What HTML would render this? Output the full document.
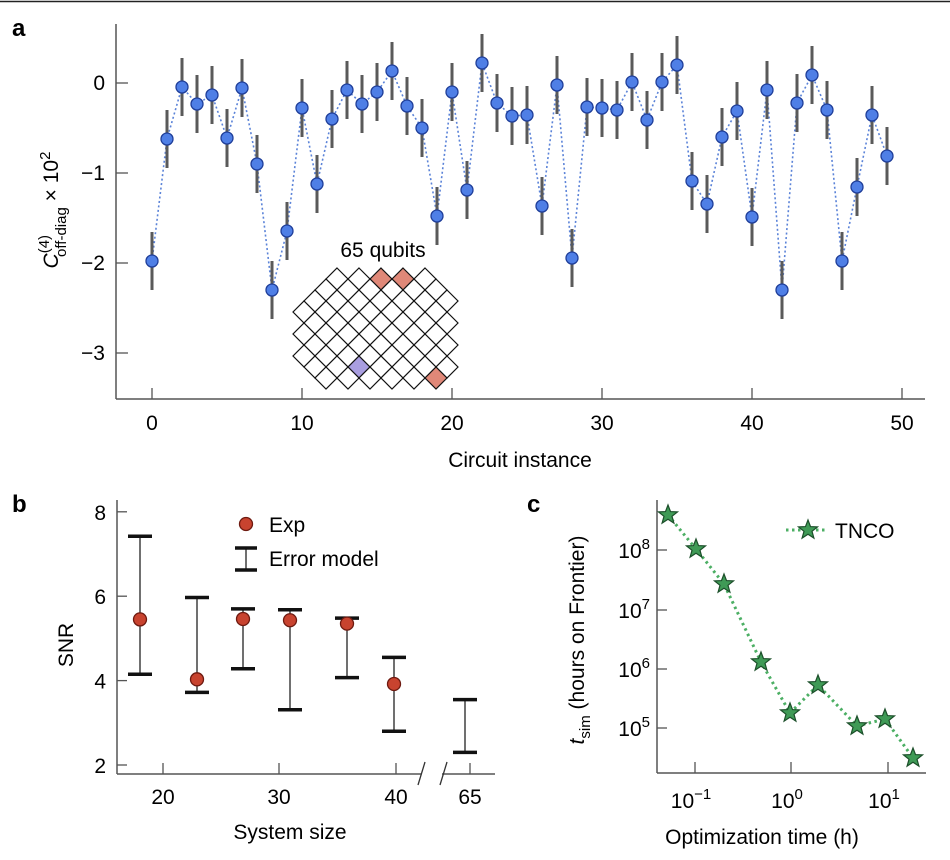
<!DOCTYPE html>
<html><head><meta charset="utf-8"><style>
html,body{margin:0;padding:0;background:#fff;}
svg{display:block;font-family:"Liberation Sans",Arial,sans-serif;}
</style></head><body>
<svg id="s" width="950" height="860" viewBox="0 0 950 860" xmlns="http://www.w3.org/2000/svg">
<line x1="0" y1="1.5" x2="950" y2="1.5" stroke="#222" stroke-width="1.5"/>
<text x="12" y="36" font-size="24" font-weight="bold">a</text>
<text x="12" y="512" font-size="24" font-weight="bold">b</text>
<text x="527" y="512" font-size="24" font-weight="bold">c</text>
<g id="a"></g><g id="b"></g><g id="c"></g>
</svg>
<script>
const NS="http://www.w3.org/2000/svg";
function el(p,t,a,txt){const e=document.createElementNS(NS,t);for(const k in a)e.setAttribute(k,a[k]);if(txt!==undefined)e.textContent=txt;p.appendChild(e);return e;}
// Panel a
const A=document.getElementById('a');
el(A,'line',{x1:116,y1:24,x2:116,y2:399,stroke:'#555','stroke-width':1.5});
el(A,'line',{x1:116,y1:399,x2:925,y2:399,stroke:'#555','stroke-width':1.5});
for(let i=0;i<=5;i++){const x=152+150*i;el(A,'line',{x1:x,y1:399,x2:x,y2:388,stroke:'#555','stroke-width':1.3});
 el(A,'text',{x:x,y:430,'font-size':21,'text-anchor':'middle'},String(i*10));}
for(let v=0;v<=3;v++){const y=83+90*v;el(A,'line',{x1:116,y1:y,x2:128,y2:y,stroke:'#555','stroke-width':1.3});
 el(A,'text',{x:105,y:y+7,'font-size':21,'text-anchor':'end'},v==0?'0':'\u2212'+v);}
el(A,'text',{x:520,y:467,'font-size':21,'text-anchor':'middle'},'Circuit instance');
const yl=el(A,'text',{transform:'translate(58,210) rotate(-90)','font-size':21,'text-anchor':'middle'});
yl.innerHTML='<tspan font-style="italic">C</tspan><tspan font-size="15" dy="-9">(4)</tspan><tspan font-size="15" dx="-22" dy="17">off-diag</tspan><tspan dy="-8"> × 10</tspan><tspan font-size="15" dy="-8">2</tspan>';
// inset lattice
el(A,'text',{x:383,y:257,'font-size':21,'text-anchor':'middle'},'65 qubits');
const rows=[[337,425],[326,436],[315,447],[304,436],[315,447],[304,436],[315,447],[304,436],[315,447],[326,436]];
rows.forEach((r,i)=>{const cy=279+i*11;for(let cx=r[0];cx<=r[1]+0.1;cx+=22){
 let f='#fff';
 if(i==0&&(cx==381||cx==403))f='#e08878';
 if(i==8&&cx==359)f='#a99ee0';
 if(i==9&&cx==436)f='#e08878';
 el(A,'polygon',{points:`${cx},${cy-11} ${cx+11},${cy} ${cx},${cy+11} ${cx-11},${cy}`,fill:f,stroke:'#111','stroke-width':1.2});}});
const ya=[261,139,87,104,95,138,88,164,290,231,108,184,119,90,104,92,71,106,128,216,92,190,63,103,116,115,206,85,258,107,108,110,82,120,82,65,181,204,137,111,217,90,290,103,75,110,261,187,115,156];
let pts=ya.map((y,i)=>(152+15*i)+','+y).join(' ');
el(A,'polyline',{points:pts,fill:'none',stroke:'#5b83d8','stroke-width':1.6,'stroke-dasharray':'2 2.5'});
ya.forEach((y,i)=>{const x=152+15*i;el(A,'line',{x1:x,y1:y-29,x2:x,y2:y+29,stroke:'#5a5a5a','stroke-width':3});});
ya.forEach((y,i)=>{const x=152+15*i;el(A,'circle',{cx:x,cy:y,r:6,fill:'#4f7fe6',stroke:'#1f3e99','stroke-width':1.3});});
// Panel b
const B=document.getElementById('b');
const by=v=>765-(v-2)*42.2;
el(B,'line',{x1:117,y1:500,x2:117,y2:774,stroke:'#555','stroke-width':1.5});
el(B,'line',{x1:117,y1:774,x2:421,y2:774,stroke:'#555','stroke-width':1.5});
el(B,'line',{x1:442,y1:774,x2:495,y2:774,stroke:'#555','stroke-width':1.5});
el(B,'line',{x1:418,y1:785,x2:425,y2:762,stroke:'#333','stroke-width':1.3});
el(B,'line',{x1:440,y1:785,x2:447,y2:762,stroke:'#333','stroke-width':1.3});
[2,4,6,8].forEach(v=>{el(B,'line',{x1:117,y1:by(v),x2:127,y2:by(v),stroke:'#555','stroke-width':1.3});
 el(B,'text',{x:106,y:by(v)+8,'font-size':21,'text-anchor':'end'},String(v));});
[[163,'20'],[279,'30'],[396,'40'],[470,'65']].forEach(([x,t])=>{el(B,'line',{x1:x,y1:774,x2:x,y2:763,stroke:'#555','stroke-width':1.3});
 el(B,'text',{x:x,y:804,'font-size':21,'text-anchor':'middle'},t);});
el(B,'text',{x:290,y:839,'font-size':21,'text-anchor':'middle'},'System size');
el(B,'text',{transform:'translate(73,645) rotate(-90)','font-size':21,'text-anchor':'middle'},'SNR');
const bd=[[140,5.45,7.42,4.15],[197,4.03,5.97,3.72],[243,5.46,5.70,4.28],[290,5.43,5.68,3.31],[347,5.35,5.48,4.07],[394,3.92,4.55,2.80],[465,null,3.55,2.30]];
bd.forEach(([x,e,h,l])=>{el(B,'line',{x1:x,y1:by(h),x2:x,y2:by(l),stroke:'#111','stroke-width':1.2});
 [h,l].forEach(v=>el(B,'line',{x1:x-12,y1:by(v),x2:x+12,y2:by(v),stroke:'#111','stroke-width':3.5}));
 if(e!==null)el(B,'circle',{cx:x,cy:by(e),r:6.5,fill:'#c8432f',stroke:'#6e1a10','stroke-width':1.3});});
el(B,'circle',{cx:246,cy:524,r:6.5,fill:'#c8432f',stroke:'#6e1a10','stroke-width':1.3});
el(B,'text',{x:269,y:532,'font-size':21},'Exp');
el(B,'line',{x1:246,y1:548,x2:246,y2:570,stroke:'#111','stroke-width':1.2});
el(B,'line',{x1:235,y1:548,x2:257,y2:548,stroke:'#111','stroke-width':3.5});
el(B,'line',{x1:235,y1:570,x2:257,y2:570,stroke:'#111','stroke-width':3.5});
el(B,'text',{x:269,y:566,'font-size':21},'Error model');
// Panel c
const C=document.getElementById('c');
el(C,'line',{x1:657,y1:500,x2:657,y2:773,stroke:'#555','stroke-width':1.5});
el(C,'line',{x1:657,y1:773,x2:926,y2:773,stroke:'#555','stroke-width':1.5});
[[695,'\u22121'],[791,'0'],[888,'1']].forEach(([x,t])=>{el(C,'line',{x1:x,y1:773,x2:x,y2:762,stroke:'#555','stroke-width':1.3});
 const tt=el(C,'text',{x:x-4,y:808,'font-size':21,'text-anchor':'middle'});tt.innerHTML='10<tspan font-size="15" dy="-9">'+t+'</tspan>';});
[[550,'8'],[610,'7'],[669,'6'],[728,'5']].forEach(([y,t])=>{el(C,'line',{x1:657,y1:y,x2:667,y2:y,stroke:'#555','stroke-width':1.3});
 const tt=el(C,'text',{x:650,y:y+8,'font-size':21,'text-anchor':'end'});tt.innerHTML='10<tspan font-size="15" dy="-9">'+t+'</tspan>';});
el(C,'text',{x:762,y:844,'font-size':21,'text-anchor':'middle'},'Optimization time (h)');
const cl=el(C,'text',{transform:'translate(584,640) rotate(-90)','font-size':21,'text-anchor':'middle'});
cl.innerHTML='<tspan font-style="italic">t</tspan><tspan font-size="15" dy="6">sim</tspan><tspan dy="-6"> (hours on Frontier)</tspan>';
const cp=[[668,515],[696,549],[724,584],[761,662],[790,713],[818,685],[857,726],[885,719],[913,758]];
el(C,'polyline',{points:cp.map(p=>p.join(',')).join(' '),fill:'none',stroke:'#4caf64','stroke-width':3,'stroke-dasharray':'2.5 3.5'});
function star(x,y){let p=[];for(let i=0;i<10;i++){const r=i%2?4.2:10;const a=-Math.PI/2+i*Math.PI/5;p.push((x+r*Math.cos(a)).toFixed(1)+','+(y+r*Math.sin(a)).toFixed(1));}
 el(C,'polygon',{points:p.join(' '),fill:'#3f9a56',stroke:'#1c4f2a','stroke-width':1.2});}
cp.forEach(p=>star(p[0],p[1]));
el(C,'line',{x1:786,y1:530,x2:828,y2:530,stroke:'#4caf64','stroke-width':3,'stroke-dasharray':'2.5 3.5'});
star(808,530);
el(C,'text',{x:835,y:538,'font-size':21},'TNCO');
</script>
</body></html>
